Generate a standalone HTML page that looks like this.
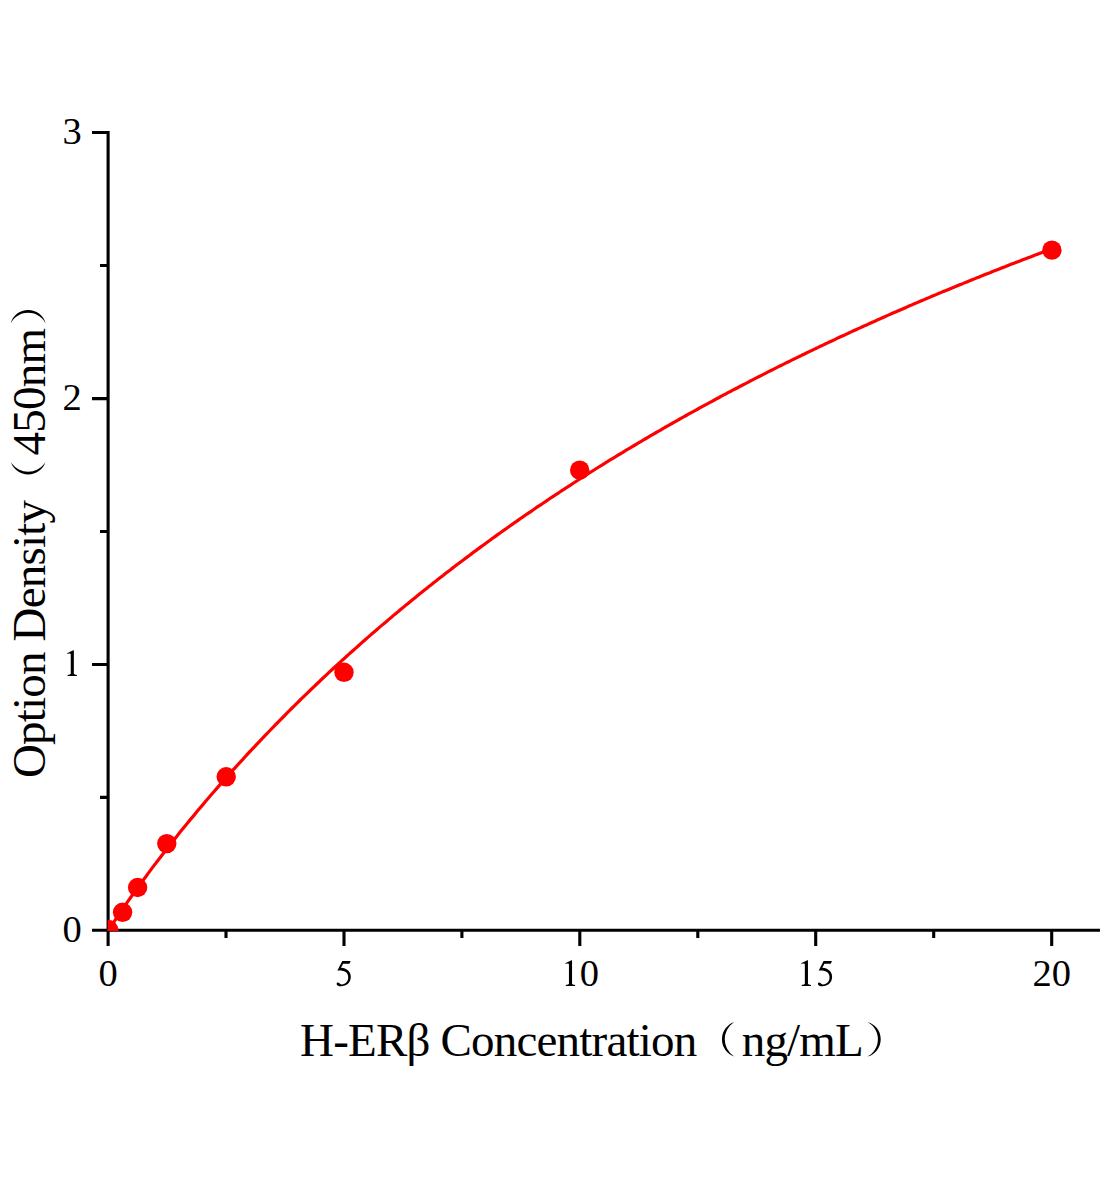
<!DOCTYPE html>
<html><head><meta charset="utf-8">
<style>
html,body{margin:0;padding:0;background:#fff;}
body{width:1104px;height:1200px;overflow:hidden;}
svg{display:block;}
text{font-family:"Liberation Serif",serif;fill:#000;}
</style></head>
<body>
<svg width="1104" height="1200" viewBox="0 0 1104 1200">
<rect width="1104" height="1200" fill="#fff"/>
<defs><path id="five" d="M7.9 -25 L16.3 -25 L15.0 -22.3 L8.7 -22.3 L6.6 -18.2 C12.5 -17.8 16.4 -14.5 16.4 -9.2 C16.4 -3.5 12.2 0.35 6.6 0.35 C4.4 0.35 2.2 -0.5 2.2 -2.1 C2.2 -3.0 2.9 -3.5 3.6 -3.5 C4.6 -3.5 5.2 -1.9 7.2 -1.6 C11.4 -1.5 13.8 -4.8 13.8 -8.7 C13.8 -13.0 10.8 -15.8 3.0 -15.4 Z"/><path id="one" d="M1.55 -25.8 L1.55 -2.2 Q1.7 -1.1 4.6 -0.95 L4.6 0 L-4.7 0 L-4.7 -0.95 Q-1.7 -1.1 -1.55 -2.2 L-1.55 -21.4 Q-1.6 -22.6 -2.8 -22.5 L-5.2 -22.2 L-5.3 -22.8 L1.0 -25.8 Z"/><clipPath id="plot"><rect x="107.6" y="0" width="1000" height="931"/></clipPath></defs>
<!-- axes -->
<g stroke="#000" stroke-width="3.1" fill="none">
<path d="M108.1 131 V946 M92 930.3 H1100"/>
<path d="M92 132.5 H108 M92 398.6 H108 M92 664.5 H108"/>
<path d="M100 265.5 H108 M100 531.5 H108 M100 797.4 H108"/>
<path d="M344 930 V946 M579.8 930 V946 M815.7 930 V946 M1051.7 930 V946"/>
<path d="M226 930 V938 M461.9 930 V938 M697.8 930 V938 M933.7 930 V938"/>
</g>
<!-- curve -->
<polyline clip-path="url(#plot)" fill="none" stroke="#f00" stroke-width="3.2" stroke-linejoin="round" points="108.1,931.3 108.2,931.2 108.3,930.9 108.6,930.4 109.0,929.7 109.6,928.9 110.2,927.8 111.0,926.6 111.9,925.2 112.9,923.7 114.0,921.9 115.2,920.0 116.6,918.0 118.1,915.8 119.7,913.4 121.4,910.9 123.2,908.2 125.1,905.4 127.2,902.4 129.4,899.3 131.7,896.0 134.1,892.6 136.6,889.1 139.3,885.4 142.1,881.6 145.0,877.7 148.0,873.6 151.1,869.4 154.3,865.1 157.7,860.7 161.2,856.2 164.8,851.5 168.5,846.8 172.3,841.9 176.3,836.9 180.3,831.8 184.5,826.7 188.8,821.4 193.3,816.1 197.8,810.6 202.5,805.1 204.8,802.3 207.2,799.5 209.5,796.8 211.9,794.0 214.3,791.3 216.6,788.6 219.0,785.9 221.3,783.2 223.7,780.5 226.1,777.9 228.4,775.2 230.8,772.6 233.1,769.9 235.5,767.3 237.8,764.7 240.2,762.1 242.6,759.6 244.9,757.0 247.3,754.4 249.6,751.9 252.0,749.4 254.4,746.8 256.7,744.3 259.1,741.8 261.4,739.4 263.8,736.9 266.2,734.4 268.5,732.0 270.9,729.5 273.2,727.1 275.6,724.7 277.9,722.3 280.3,719.9 282.7,717.5 285.0,715.1 287.4,712.7 289.7,710.4 292.1,708.0 294.5,705.7 296.8,703.3 299.2,701.0 301.5,698.7 303.9,696.4 306.3,694.1 308.6,691.8 311.0,689.5 313.3,687.3 315.7,685.0 318.1,682.8 320.4,680.5 322.8,678.3 325.1,676.1 327.5,673.9 329.8,671.7 332.2,669.5 334.6,667.3 336.9,665.1 339.3,663.0 341.6,660.8 344.0,658.7 346.4,656.5 348.7,654.4 351.1,652.3 353.4,650.2 355.8,648.1 358.2,646.0 360.5,643.9 362.9,641.8 365.2,639.7 367.6,637.6 369.9,635.6 372.3,633.5 374.7,631.5 377.0,629.5 379.4,627.4 381.7,625.4 384.1,623.4 386.5,621.4 388.8,619.4 391.2,617.4 393.5,615.4 395.9,613.4 398.3,611.5 400.6,609.5 403.0,607.6 405.3,605.6 407.7,603.7 410.1,601.7 412.4,599.8 414.8,597.9 417.1,596.0 419.5,594.1 421.8,592.2 424.2,590.3 426.6,588.4 428.9,586.5 431.3,584.7 433.6,582.8 436.0,581.0 438.4,579.1 440.7,577.3 443.1,575.4 445.4,573.6 447.8,571.8 450.2,570.0 452.5,568.1 454.9,566.3 457.2,564.5 459.6,562.8 462.0,561.0 464.3,559.2 466.7,557.4 469.0,555.7 471.4,553.9 473.7,552.1 476.1,550.4 478.5,548.6 480.8,546.9 483.2,545.2 485.5,543.5 487.9,541.7 490.3,540.0 492.6,538.3 495.0,536.6 497.3,534.9 499.7,533.2 502.1,531.5 504.4,529.9 506.8,528.2 509.1,526.5 511.5,524.9 513.8,523.2 516.2,521.6 518.6,519.9 520.9,518.3 523.3,516.6 525.6,515.0 528.0,513.4 530.4,511.8 532.7,510.2 535.1,508.5 537.4,506.9 539.8,505.3 542.2,503.8 544.5,502.2 546.9,500.6 549.2,499.0 551.6,497.4 554.0,495.9 556.3,494.3 558.7,492.8 561.0,491.2 563.4,489.7 565.7,488.1 568.1,486.6 570.5,485.1 572.8,483.5 575.2,482.0 577.5,480.5 579.9,479.0 582.3,477.5 584.6,476.0 587.0,474.5 589.3,473.0 591.7,471.5 594.1,470.0 596.4,468.5 598.8,467.0 601.1,465.6 603.5,464.1 605.8,462.7 608.2,461.2 610.6,459.7 612.9,458.3 615.3,456.9 617.6,455.4 620.0,454.0 622.4,452.6 624.7,451.1 627.1,449.7 629.4,448.3 631.8,446.9 634.2,445.5 636.5,444.1 638.9,442.7 641.2,441.3 643.6,439.9 646.0,438.5 648.3,437.1 650.7,435.7 653.0,434.4 655.4,433.0 657.7,431.6 660.1,430.3 662.5,428.9 664.8,427.5 667.2,426.2 669.5,424.8 671.9,423.5 674.3,422.2 676.6,420.8 679.0,419.5 681.3,418.2 683.7,416.9 686.1,415.5 688.4,414.2 690.8,412.9 693.1,411.6 695.5,410.3 697.9,409.0 700.2,407.7 702.6,406.4 704.9,405.1 707.3,403.8 709.6,402.6 712.0,401.3 714.4,400.0 716.7,398.7 719.1,397.5 721.4,396.2 723.8,394.9 726.2,393.7 728.5,392.4 730.9,391.2 733.2,389.9 735.6,388.7 738.0,387.5 740.3,386.2 742.7,385.0 745.0,383.8 747.4,382.6 749.7,381.3 752.1,380.1 754.5,378.9 756.8,377.7 759.2,376.5 761.5,375.3 763.9,374.1 766.3,372.9 768.6,371.7 771.0,370.5 773.3,369.3 775.7,368.1 778.1,366.9 780.4,365.8 782.8,364.6 785.1,363.4 787.5,362.3 789.9,361.1 792.2,359.9 794.6,358.8 796.9,357.6 799.3,356.5 801.6,355.3 804.0,354.2 806.4,353.0 808.7,351.9 811.1,350.8 813.4,349.6 815.8,348.5 818.2,347.4 820.5,346.2 822.9,345.1 825.2,344.0 827.6,342.9 830.0,341.8 832.3,340.7 834.7,339.6 837.0,338.4 839.4,337.3 841.7,336.2 844.1,335.2 846.5,334.1 848.8,333.0 851.2,331.9 853.5,330.8 855.9,329.7 858.3,328.6 860.6,327.6 863.0,326.5 865.3,325.4 867.7,324.4 870.1,323.3 872.4,322.2 874.8,321.2 877.1,320.1 879.5,319.1 881.9,318.0 884.2,317.0 886.6,315.9 888.9,314.9 891.3,313.8 893.6,312.8 896.0,311.8 898.4,310.7 900.7,309.7 903.1,308.7 905.4,307.7 907.8,306.6 910.2,305.6 912.5,304.6 914.9,303.6 917.2,302.6 919.6,301.6 922.0,300.6 924.3,299.6 926.7,298.6 929.0,297.6 931.4,296.6 933.8,295.6 936.1,294.6 938.5,293.6 940.8,292.6 943.2,291.6 945.5,290.7 947.9,289.7 950.3,288.7 952.6,287.7 955.0,286.8 957.3,285.8 959.7,284.8 962.1,283.9 964.4,282.9 966.8,281.9 969.1,281.0 971.5,280.0 973.9,279.1 976.2,278.1 978.6,277.2 980.9,276.2 983.3,275.3 985.6,274.3 988.0,273.4 990.4,272.5 992.7,271.5 995.1,270.6 997.4,269.7 999.8,268.8 1002.2,267.8 1004.5,266.9 1006.9,266.0 1009.2,265.1 1011.6,264.1 1014.0,263.2 1016.3,262.3 1018.7,261.4 1021.0,260.5 1023.4,259.6 1025.8,258.7 1028.1,257.8 1030.5,256.9 1032.8,256.0 1035.2,255.1 1037.5,254.2 1039.9,253.3 1042.3,252.4 1044.6,251.6 1047.0,250.7 1049.3,249.8 1051.7,248.9"/>
<!-- points -->
<g fill="#f00">
<circle cx="108.1" cy="930.3" r="10.5" clip-path="url(#plot)"/>
<circle cx="122.6" cy="912.3" r="9.7"/>
<circle cx="137.6" cy="887.5" r="9.7"/>
<circle cx="166.8" cy="843.6" r="9.7"/>
<circle cx="226.2" cy="776.8" r="9.7"/>
<circle cx="344" cy="672.3" r="9.7"/>
<circle cx="579.7" cy="470.15" r="9.7"/>
<circle cx="1051.9" cy="250.15" r="9.7"/>
</g>
<!-- tick labels -->
<g font-size="38.5" text-anchor="end">
<text x="81.8" y="144">3</text>
<text x="81.8" y="410">2</text>

<text x="81.8" y="941.8">0</text>
</g>
<g font-size="38.5" text-anchor="middle">
<text x="108.1" y="986">0</text>



<text x="1051.7" y="986">20</text>
</g>
<g font-size="38.5">
<text x="579.8" y="986">0</text>

</g>
<use href="#one" x="72.3" y="676"/>
<use href="#five" x="815.7" y="986"/>
<use href="#five" x="334.4" y="986"/>
<use href="#one" x="570.5" y="986"/>
<use href="#one" x="806.4" y="986"/>
<!-- x title -->
<g font-size="47" letter-spacing="-0.8">
<text x="300" y="1056">H-ERβ Concentration</text>
<text x="741.7" y="1056">ng/mL</text>
</g>
<path transform="translate(733.95,1056)" d="M0.5 -34.1 A18.29 18.29 0 0 0 0.5 0.6 L-0.7 -0.2 A20.36 20.36 0 0 1 -0.7 -33.3 Z"/>
<path transform="translate(868,1056)" d="M-0.5 -34.1 A18 18 0 0 1 -0.5 0.6 L0.7 -0.2 A19.5 19.5 0 0 0 0.7 -33.3 Z"/>
<!-- y title -->
<g transform="translate(44.9,778.1) rotate(-90)">
<g font-size="47" letter-spacing="-0.8">
<text x="0" y="0">Option Density</text>
<text x="322.7" y="0">450nm</text>
</g>
<path transform="translate(315.65,0)" d="M0.5 -34.1 A18.29 18.29 0 0 0 0.5 0.6 L-0.7 -0.2 A20.36 20.36 0 0 1 -0.7 -33.3 Z"/>
<path transform="translate(455.5,0)" d="M-0.5 -34.1 A18 18 0 0 1 -0.5 0.6 L0.7 -0.2 A19.5 19.5 0 0 0 0.7 -33.3 Z"/>
</g>
</svg>
</body></html>
